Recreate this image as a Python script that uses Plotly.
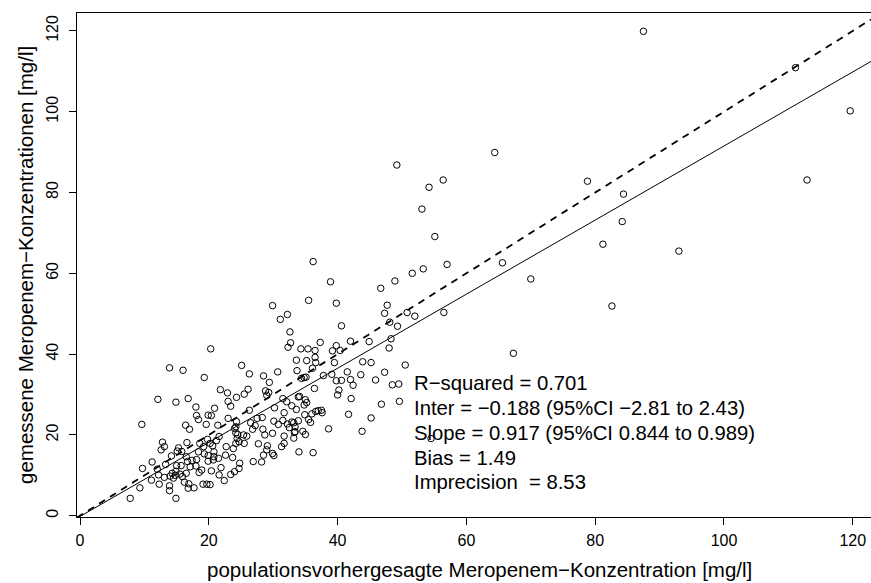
import plotly.graph_objects as go

# populationsvorhergesagte Konzentration (x) und gemessene Konzentration (y), mg/l
x_pred = [
    29.9, 32.2, 31.1, 32.6, 32.7, 32.3, 20.3, 33.6, 33.7, 13.9, 16.0, 19.3, 25.1, 26.3, 28.5, 29.4, 30.7,
    12.1, 14.9, 16.8, 21.8, 22.9, 24.3, 25.5, 26.1, 28.8, 29.0, 29.3, 31.5, 32.1, 32.9, 33.6, 33.9, 30.2,
    31.7, 18.0, 18.1, 19.9, 20.4, 20.9, 23.4, 23.0, 18.4, 19.6, 16.4, 17.0, 21.4, 24.2, 26.3, 27.5, 28.3,
    26.5, 27.2, 26.8, 24.2, 24.5, 24.4, 24.7, 25.5, 24.2, 25.4, 28.4, 28.7, 29.9, 30.1, 30.8, 31.5, 32.2,
    31.7, 33.3, 33.2, 29.1, 29.0, 29.9, 30.1, 28.2, 26.9, 28.5, 27.7, 31.3, 31.7, 34.0, 21.6, 21.2, 20.2,
    20.6, 19.8, 18.6, 19.2, 18.4, 19.3, 19.9, 20.8, 20.8, 20.7, 19.9, 21.5, 22.6, 22.7, 23.7, 21.9, 20.4,
    21.6, 22.4, 23.4, 24.0, 24.7, 24.8, 18.9, 18.5, 19.1, 19.7, 20.2, 17.1, 16.7, 17.4, 16.5, 16.6, 15.3,
    15.1, 15.8, 14.2, 13.3, 12.8, 13.1, 12.6, 11.2, 12.0, 12.2, 12.3, 11.1, 9.7, 9.6, 9.3, 7.8, 13.1,
    14.0, 14.3, 14.5, 14.9, 15.5, 14.8, 15.0, 15.7, 13.9, 13.9, 14.9, 16.2, 16.9, 16.8, 17.7, 16.5, 15.9,
    18.0, 18.1, 23.8, 24.0, 24.3, 23.0, 25.9, 33.9, 33.4,
    38.9, 46.7, 48.9, 35.5, 39.8, 47.7, 47.3, 50.8, 52.0, 56.5, 40.6, 48.1, 49.3, 37.3, 42.0, 44.9, 48.3,
    48.0, 34.3, 35.4, 36.5, 39.2, 39.8, 40.4, 35.2, 36.5, 36.6, 36.1, 39.5, 43.9, 45.2, 50.5, 34.4, 34.8,
    35.1, 37.8, 39.1, 41.5, 43.6, 47.3, 39.8, 40.6, 42.0, 42.4, 45.9, 48.5, 49.5, 36.4, 40.2, 40.0, 42.1,
    49.6, 46.8, 34.1, 35.0, 35.2, 34.8, 37.0, 37.5, 37.6, 36.6, 36.0, 34.9, 35.5, 35.8, 32.9, 33.2, 32.5,
    33.4, 34.6, 35.0, 36.2, 38.6, 41.7, 45.2, 43.8, 54.5, 67.3,
    49.2, 64.4, 56.4, 54.2, 53.1, 55.1, 36.2, 51.6, 53.3, 57.0, 65.6, 70.0,
    87.5, 111.1, 119.6, 78.8, 84.4, 112.9, 84.2, 81.2, 93.0, 82.6,
]
y_meas = [
    52.0, 49.8, 48.6, 45.5, 42.8, 41.7, 41.3, 38.5, 35.9, 36.6, 36.0, 34.2, 37.2, 35.1, 34.6, 33.0, 35.6,
    28.8, 28.1, 29.0, 31.2, 30.4, 29.3, 30.1, 31.3, 30.9, 29.8, 30.5, 29.0, 28.2, 27.2, 26.3, 29.4, 26.7,
    25.5, 26.9, 24.8, 24.9, 24.8, 26.6, 27.1, 28.3, 23.8, 22.6, 22.4, 21.4, 22.4, 22.0, 26.1, 24.1, 24.3,
    23.0, 22.3, 21.4, 20.5, 20.1, 19.1, 18.3, 17.9, 17.9, 20.0, 21.4, 20.0, 20.4, 23.4, 22.6, 23.6, 22.7,
    19.7, 20.6, 19.2, 17.3, 16.3, 15.4, 14.9, 13.3, 13.4, 15.0, 17.8, 17.1, 17.9, 15.8, 19.6, 18.6, 17.9,
    17.3, 18.9, 17.9, 17.1, 15.8, 15.3, 14.9, 15.8, 14.6, 13.8, 13.5, 14.2, 15.0, 17.1, 14.4, 11.9, 11.1,
    10.1, 8.7, 10.2, 10.9, 11.7, 13.0, 11.3, 10.7, 7.8, 7.8, 7.7, 12.1, 13.4, 13.7, 14.6, 18.1, 16.8,
    16.0, 15.9, 14.8, 12.7, 18.2, 17.1, 16.3, 13.3, 11.5, 10.1, 7.8, 8.8, 11.7, 22.6, 6.9, 4.3, 9.5,
    9.8, 10.5, 9.3, 11.0, 10.3, 10.0, 12.4, 12.4, 7.4, 6.2, 4.3, 8.3, 7.9, 6.8, 6.9, 10.5, 9.7,
    12.3, 13.9, 16.6, 21.6, 23.3, 24.1, 19.7, 23.5, 22.0,
    57.9, 56.3, 58.1, 53.3, 52.6, 52.1, 50.1, 50.3, 49.4, 50.3, 47.0, 47.9, 46.9, 42.9, 43.2, 43.1, 43.8,
    41.5, 41.3, 41.3, 40.9, 40.8, 42.1, 40.9, 38.4, 39.2, 37.9, 36.5, 37.9, 38.1, 37.9, 37.3, 34.0, 34.2,
    34.3, 34.7, 35.0, 35.6, 34.9, 35.5, 33.4, 33.5, 33.7, 32.3, 33.6, 32.4, 32.6, 31.5, 31.1, 29.9, 29.0,
    28.3, 27.6, 29.5, 28.7, 28.0, 27.4, 26.0, 26.1, 25.5, 25.8, 25.2, 25.0, 23.8, 23.1, 23.2, 23.0, 21.8,
    20.8, 20.9, 20.1, 15.6, 21.5, 25.1, 24.2, 20.9, 19.1, 40.2,
    86.8, 89.9, 83.1, 81.3, 75.9, 69.1, 62.9, 60.0, 61.1, 62.2, 62.6, 58.6,
    119.9, 110.9, 100.2, 82.8, 79.6, 83.1, 72.8, 67.2, 65.5, 51.9,
]

# Regression und Identitätslinie
reg_intercept = -0.188
reg_slope = 0.917
id_intercept = 0.0
id_slope = 1.0

stats_lines = [
    "R\u2212squared = 0.701",
    "Inter = \u22120.188 (95%CI \u22122.81 to 2.43)",
    "Slope = 0.917 (95%CI 0.844 to 0.989)",
    "Bias = 1.49",
    "Imprecision \u00a0= 8.53",
]

tick_vals = [0, 20, 40, 60, 80, 100, 120]
x_title = "populationsvorhergesagte Meropenem\u2212Konzentration [mg/l]"
y_title = "gemessene Meropenem\u2212Konzentrationen [mg/l]"

W, H = 871, 583
ML, MR, MT, MB = 77, 0, 13, 66
x_range = [-0.466, 122.83]
y_range = [-0.32, 124.43]
FONT = "Liberation Sans, Arial, Helvetica, sans-serif"

def px2x(px):
    return (px - ML) / (W - ML - MR)

def py2y(py):
    return (H - MB - py) / (H - MT - MB)

fig = go.Figure()
fig.add_trace(go.Scatter(
    x=x_pred, y=y_meas, mode="markers",
    marker=dict(symbol="circle-open", size=6.5, color="black", line=dict(width=1, color="black")),
    showlegend=False, hoverinfo="x+y",
))

xl = [x_range[0], x_range[1]]
fig.add_trace(go.Scatter(
    x=xl, y=[id_intercept + id_slope * v for v in xl], mode="lines",
    line=dict(color="black", width=1.8, dash="7px,6px"), showlegend=False, hoverinfo="skip",
))
fig.add_trace(go.Scatter(
    x=xl, y=[reg_intercept + reg_slope * v for v in xl], mode="lines",
    line=dict(color="black", width=1), showlegend=False, hoverinfo="skip",
))

annotations = []
line_y = [383, 408, 433, 458, 482]
for txt, py in zip(stats_lines, line_y):
    annotations.append(dict(
        text=txt, xref="paper", yref="paper", x=px2x(411.5), y=py2y(py),
        xanchor="left", yanchor="middle", showarrow=False,
        font=dict(family=FONT, size=20.3, color="black"),
    ))
annotations.append(dict(
    text=x_title, xref="paper", yref="paper", x=px2x(479), y=py2y(569),
    xanchor="center", yanchor="middle", showarrow=False,
    font=dict(family=FONT, size=20.5, color="black"),
))
annotations.append(dict(
    text=y_title, xref="paper", yref="paper", x=px2x(25), y=py2y(265),
    xanchor="center", yanchor="middle", showarrow=False, textangle=-90,
    font=dict(family=FONT, size=20.5, color="black"),
))

fig.update_layout(
    width=W, height=H,
    margin=dict(l=ML, r=MR, t=MT, b=MB, pad=0),
    paper_bgcolor="white", plot_bgcolor="white",
    font=dict(family=FONT, size=16, color="black"),
    annotations=annotations,
    xaxis=dict(
        range=x_range, tickvals=tick_vals, ticktext=[str(v) for v in tick_vals],
        showgrid=False, zeroline=False, showline=True, linecolor="black", linewidth=1,
        mirror=True, ticks="outside", ticklen=7, tickcolor="black", tickwidth=1,
        tickfont=dict(size=16), automargin=False, ticklabelstandoff=2,
    ),
    yaxis=dict(
        range=y_range, tickvals=tick_vals, ticktext=[str(v) for v in tick_vals],
        showgrid=False, zeroline=False, showline=True, linecolor="black", linewidth=1,
        ticks="outside", ticklen=7, tickcolor="black", tickwidth=1, tickangle=-90,
        tickfont=dict(size=16), automargin=False, ticklabelstandoff=5,
    ),
)

fig.write_html(
    "out.html",
    config={"displayModeBar": False},
    post_script="document.body.style.margin='0';document.body.style.overflow='hidden';",
)
